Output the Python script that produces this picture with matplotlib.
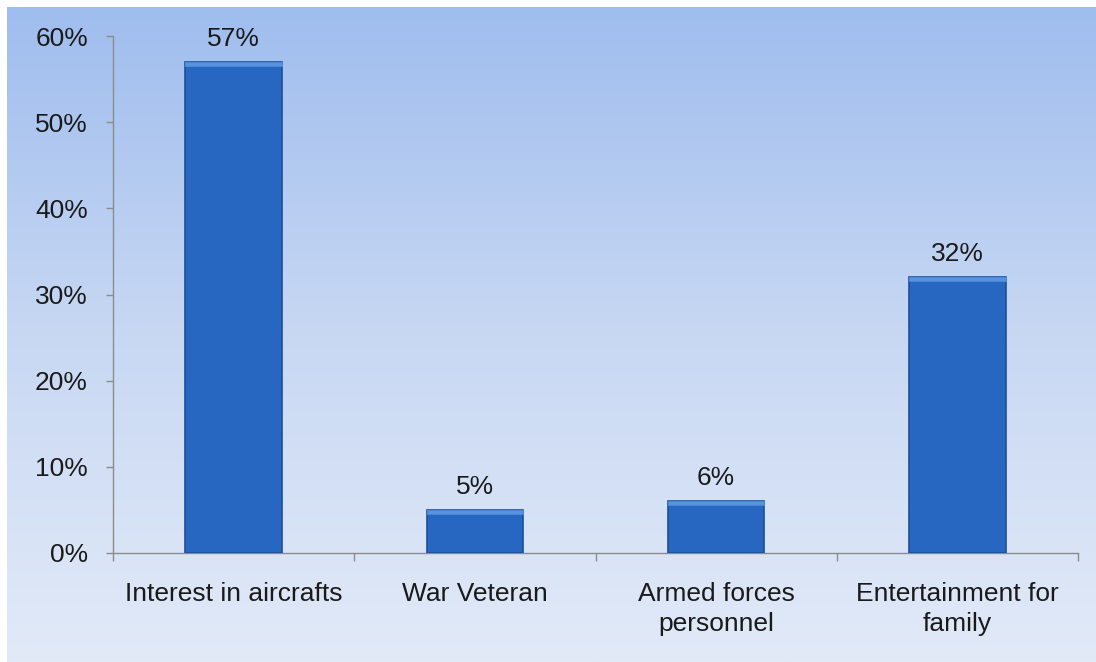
import numpy as np
import matplotlib.pyplot as plt
from matplotlib.colors import LinearSegmentedColormap

categories = ["Interest in aircrafts", "War Veteran", "Armed forces\npersonnel", "Entertainment for\nfamily"]
values = [57, 5, 6, 32]
yticks = [0, 10, 20, 30, 40, 50, 60]

W, H = 1096, 662
fig = plt.figure(figsize=(W / 100, H / 100), dpi=100, facecolor="white")
plt.rcParams["font.family"] = ["Liberation Sans", "DejaVu Sans"]
fs = 19

# background panel with a vertical blue gradient
bg = fig.add_axes([7 / W, 0, 1 - 7 / W, 1 - 7 / H])
bg.axis("off")
grad = LinearSegmentedColormap.from_list("bg", ["#e2eaf8", "#c8d8f3", "#9fbdee"])
bg.imshow(np.linspace(0, 1, 256).reshape(-1, 1), cmap=grad, aspect="auto",
          origin="lower", extent=[0, 1, 0, 1])

ax = fig.add_axes([113 / W, (H - 553) / H, (1078 - 113) / W, (553 - 36) / H])
ax.set_facecolor("none")

x = np.arange(len(categories))
bw = 0.4
ax.bar(x, values, width=bw, color="#2767c2", edgecolor="#1e4f98", linewidth=1.2, zorder=3)
# bevel highlight on top of each bar
bev = 0.45
ax.bar(x, [bev] * len(values), bottom=[v - bev for v in values], width=bw,
       color="#5893e0", edgecolor="#4a86d6", linewidth=0.8, zorder=4)

for xi, v in zip(x, values):
    ax.text(xi, v + 1.3, f"{v}%", ha="center", va="bottom", fontsize=fs, color="#1a1a1a")

ax.set_xlim(-0.5, len(categories) - 0.5)
ax.set_ylim(0, 60)
ax.set_yticks(yticks)
ax.set_yticklabels([f"{t}%" for t in yticks], fontsize=fs, color="#1a1a1a")
ax.tick_params(axis="y", length=5, width=1, color="#8c8c8c", pad=13)

ax.set_xticks(x)
ax.set_xticklabels(categories, fontsize=fs, color="#1a1a1a", linespacing=1.3)
ax.tick_params(axis="x", which="major", length=0, pad=21)
ax.set_xticks(np.arange(len(categories) + 1) - 0.5, minor=True)
ax.tick_params(axis="x", which="minor", length=6, width=1, color="#8c8c8c")

for s in ["top", "right"]:
    ax.spines[s].set_visible(False)
for s in ["left", "bottom"]:
    ax.spines[s].set_color("#8c8c8c")
    ax.spines[s].set_linewidth(1)

fig.savefig("out.png", dpi=100, facecolor="white")
